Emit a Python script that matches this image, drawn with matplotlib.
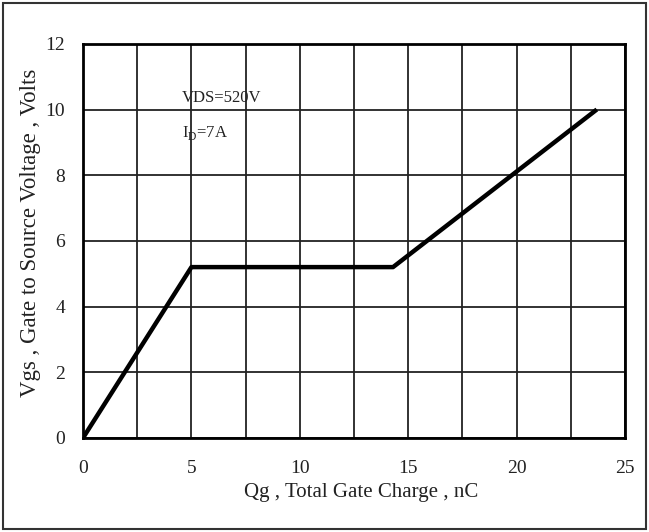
import matplotlib.pyplot as plt
from matplotlib.patches import Rectangle

# gate charge curve
qg = [0, 5, 14.3, 23.7]
vgs = [0, 5.2, 5.2, 10]

x_ticks = [0, 5, 10, 15, 20, 25]
y_ticks = [0, 2, 4, 6, 8, 10, 12]

plt.rcParams['font.family'] = ['Liberation Serif', 'DejaVu Serif']

fig = plt.figure(figsize=(6.49, 5.32), dpi=100)
fig.patches.append(Rectangle((0.004, 0.006), 0.992, 0.988, transform=fig.transFigure,
                             fill=False, edgecolor='#333333', linewidth=1.5))
ax = fig.add_axes([0.128, 0.177, 0.835, 0.7406])

ax.set_xlim(0, 25)
ax.set_ylim(0, 12)
ax.set_xticks(x_ticks)
ax.set_xticks([2.5 * i for i in range(11)], minor=True)
ax.set_yticks(y_ticks)
ax.grid(True, which='both', color='#222222', linewidth=1.3)
ax.tick_params(which='both', length=0, labelsize=14, colors='#222222')
ax.tick_params(axis='x', pad=16)
ax.tick_params(axis='y', pad=13)
for s in ax.spines.values():
    s.set_linewidth(2)

ax.plot(qg, vgs, color='black', linewidth=3.2, solid_capstyle='butt')

ax.text(4.55, 10.22, 'VDS=520V', fontsize=12, color='#222222')
ax.text(4.55, 9.17, r'I$_\mathregular{D}$=7A', fontsize=12, color='#222222')

ax.set_xlabel('Qg , Total Gate Charge , nC', fontsize=15, color='#222222')
ax.set_ylabel('Vgs , Gate to Source Voltage , Volts', fontsize=16.5, color='#222222')
ax.xaxis.set_label_coords(0.513, -0.115)
ax.yaxis.set_label_coords(-0.077, 0.52)

fig.savefig('out.png', dpi=100)
